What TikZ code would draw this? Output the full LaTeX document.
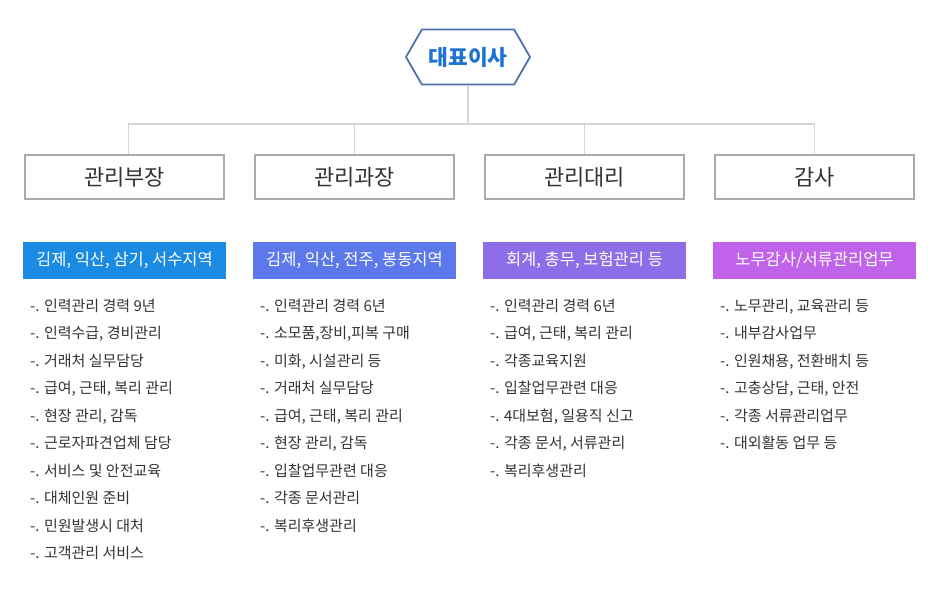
\documentclass[tikz,border=0pt]{standalone}
\usepackage{fontspec}
\setmainfont{Noto Sans CJK KR}
\usetikzlibrary{shapes.symbols}
\definecolor{hexline}{HTML}{4F72A8}
\definecolor{hextext}{HTML}{1E73D2}
\definecolor{conn}{HTML}{D6D6D6}
\definecolor{boxline}{HTML}{ABABAB}
\definecolor{txt}{HTML}{333333}
\definecolor{cA}{HTML}{1A8AE2}
\definecolor{cB}{HTML}{5C78EA}
\definecolor{cC}{HTML}{8E6EE8}
\definecolor{cD}{HTML}{C163EA}
\begin{document}
\begin{tikzpicture}[x=1pt,y=-1pt,
  ceobox/.style={signal, signal to=west and east, signal pointer angle=120, draw=hexline, line width=1.8pt, fill=white, minimum width=124pt, minimum height=55pt, inner sep=0pt, text=hextext, font=\fontsize{21.5}{24}\selectfont\bfseries},
  rolebox/.style={draw=boxline, line width=1.8pt, fill=white, minimum width=199pt, minimum height=44pt, inner sep=0pt, text=txt, font=\fontsize{22}{24}\selectfont},
  bar/.style={minimum width=203pt, minimum height=37pt, inner sep=0pt, text=white, font=\fontsize{16.5}{18}\selectfont},
  item/.style={anchor=west, inner sep=0pt, text height=11pt, text depth=3pt, text=txt, font=\fontsize{15}{17}\selectfont},
  link/.style={draw=conn, line width=1.8pt}
]
\useasboundingbox[fill=white] (0,0) rectangle (940,606);

\node[ceobox] (ceo) at (468,57) {대표이사};

\node[rolebox] (b1) at (124.5,177) {관리부장};
\node[rolebox] (b2) at (354.5,177) {관리과장};
\node[rolebox] (b3) at (584.5,177) {관리대리};
\node[rolebox] (b4) at (814.5,177) {감사};

\coordinate (j) at (468,124);
\draw[link] (ceo.south) -- (j);
\draw[link] (j) -| ([xshift=4pt]b1.north);
\draw[link] (j) -| (b2.north);
\draw[link] (j) -| (b3.north);
\draw[link] (j) -| (b4.north);

\node[bar, fill=cA] (t1) at (124.5,260.5) {김제, 익산, 삼기, 서수지역};
\node[bar, fill=cB] (t2) at (354.5,260.5) {김제, 익산, 전주, 봉동지역};
\node[bar, fill=cC] (t3) at (584.5,260.5) {회계, 총무, 보험관리 등};
\node[bar, fill=cD] (t4) at (814.5,260.5) {노무감사/서류관리업무};

\foreach \t [count=\i from 0] in {인력관리 경력 9년, {인력수급, 경비관리}, 거래처 실무담당, {급여, 근태, 복리 관리}, {현장 관리, 감독}, 근로자파견업체 담당, 서비스 및 안전교육, 대체인원 준비, 민원발생시 대처, 고객관리 서비스}
  \node[item] (la\i) at (30,307+27.5*\i) {-. \t};

\foreach \t [count=\i from 0] in {인력관리 경력 6년, {소모품,장비,피복 구매}, {미화, 시설관리 등}, 거래처 실무담당, {급여, 근태, 복리 관리}, {현장 관리, 감독}, 입찰업무관련 대응, 각종 문서관리, 복리후생관리}
  \node[item] (lb\i) at (260,307+27.5*\i) {-. \t};

\foreach \t [count=\i from 0] in {인력관리 경력 6년, {급여, 근태, 복리 관리}, 각종교육지원, 입찰업무관련 대응, {4대보험, 일용직 신고}, {각종 문서, 서류관리}, 복리후생관리}
  \node[item] (lc\i) at (490,307+27.5*\i) {-. \t};

\foreach \t [count=\i from 0] in {{노무관리, 교육관리 등}, 내부감사업무, {인원채용, 전환배치 등}, {고충상담, 근태, 안전}, 각종 서류관리업무, 대외활동 업무 등}
  \node[item] (ld\i) at (720,307+27.5*\i) {-. \t};
\end{tikzpicture}
\end{document}
